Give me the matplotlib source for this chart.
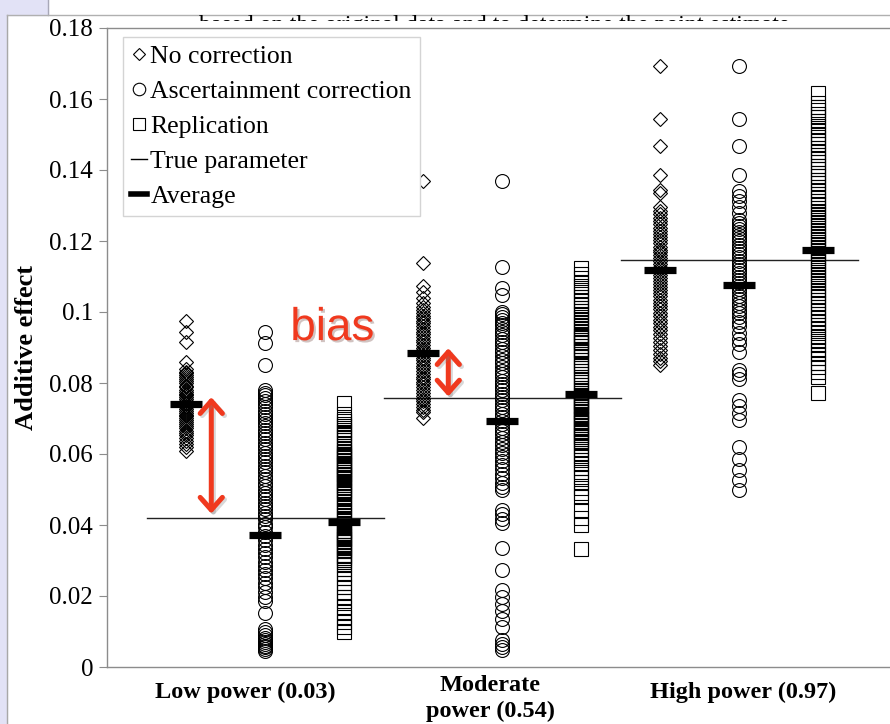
import matplotlib.pyplot as plt
import matplotlib.patheffects as pe
from matplotlib.lines import Line2D
from matplotlib.patches import Rectangle, FancyArrowPatch
from matplotlib.transforms import Bbox, TransformedBbox

# power scenarios
groups = ['Low power (0.03)', 'Moderate\npower (0.54)', 'High power (0.97)']
group_label_x = [1.75, 4.85, 8.05]
group_label_y = [-0.04, -0.049, -0.04]
true_param = [0.0420, 0.0757, 0.1146]

# estimates without correction
low_no_corr = [0.0975, 0.0945, 0.0915, 0.0858, 0.0840, 0.0832, 0.0828, 0.0822, 0.0816,
               0.0811, 0.0805, 0.0799, 0.0792, 0.0788, 0.0781, 0.0776, 0.0770, 0.0765,
               0.0760, 0.0754, 0.0749, 0.0745, 0.0741, 0.0736, 0.0731, 0.0727, 0.0722,
               0.0716, 0.0711, 0.0707, 0.0701, 0.0695, 0.0690, 0.0684, 0.0679, 0.0672,
               0.0666, 0.0660, 0.0653, 0.0646, 0.0638, 0.0628, 0.0620, 0.0608]
mod_no_corr = [0.1369, 0.1138, 0.1073, 0.1056, 0.1040, 0.1025, 0.1015, 0.1005, 0.0998,
               0.0990, 0.0982, 0.0975, 0.0968, 0.0960, 0.0952, 0.0945, 0.0938, 0.0930,
               0.0922, 0.0915, 0.0908, 0.0900, 0.0893, 0.0886, 0.0878, 0.0871, 0.0864,
               0.0856, 0.0848, 0.0841, 0.0833, 0.0826, 0.0818, 0.0811, 0.0803, 0.0796,
               0.0788, 0.0780, 0.0772, 0.0764, 0.0756, 0.0748, 0.0740, 0.0732, 0.0725,
               0.0718, 0.0701]
high_no_corr = [0.1693, 0.1544, 0.1468, 0.1386, 0.1344, 0.1335, 0.1296, 0.1285, 0.1275,
                0.1265, 0.1256, 0.1247, 0.1238, 0.1229, 0.1220, 0.1211, 0.1202, 0.1193,
                0.1184, 0.1176, 0.1168, 0.1160, 0.1152, 0.1144, 0.1136, 0.1128, 0.1120,
                0.1112, 0.1104, 0.1096, 0.1088, 0.1080, 0.1071, 0.1062, 0.1053, 0.1044,
                0.1035, 0.1026, 0.1017, 0.1008, 0.0998, 0.0988, 0.0978, 0.0968, 0.0958,
                0.0948, 0.0938, 0.0927, 0.0916, 0.0905, 0.0894, 0.0882, 0.0870, 0.0862,
                0.0852]

# estimates with ascertainment correction
low_asc = [0.0944, 0.0913, 0.0850, 0.0780, 0.0772, 0.0765, 0.0757, 0.0748, 0.0740,
           0.0731, 0.0722, 0.0712, 0.0703, 0.0695, 0.0686, 0.0678, 0.0668, 0.0660,
           0.0651, 0.0641, 0.0632, 0.0622, 0.0613, 0.0603, 0.0594, 0.0585, 0.0577,
           0.0566, 0.0557, 0.0548, 0.0538, 0.0529, 0.0519, 0.0510, 0.0500, 0.0491,
           0.0482, 0.0472, 0.0463, 0.0453, 0.0444, 0.0434, 0.0425, 0.0416, 0.0404,
           0.0393, 0.0381, 0.0370, 0.0357, 0.0345, 0.0333, 0.0320, 0.0309, 0.0297,
           0.0285, 0.0274, 0.0262, 0.0250, 0.0238, 0.0226, 0.0212, 0.0198, 0.0185,
           0.0152, 0.0108, 0.0098, 0.0090, 0.0083, 0.0077, 0.0071, 0.0066, 0.0060,
           0.0055, 0.0050, 0.0046]
mod_asc = [0.1369, 0.1127, 0.1068, 0.1048, 0.1000, 0.0993, 0.0985, 0.0978, 0.0970,
           0.0962, 0.0953, 0.0944, 0.0935, 0.0925, 0.0916, 0.0906, 0.0896, 0.0886,
           0.0876, 0.0866, 0.0855, 0.0845, 0.0835, 0.0826, 0.0816, 0.0806, 0.0797,
           0.0788, 0.0779, 0.0770, 0.0760, 0.0751, 0.0742, 0.0732, 0.0723, 0.0713,
           0.0704, 0.0694, 0.0684, 0.0674, 0.0664, 0.0655, 0.0645, 0.0635, 0.0625,
           0.0614, 0.0603, 0.0592, 0.0581, 0.0569, 0.0557, 0.0545, 0.0532, 0.0519,
           0.0507, 0.0499, 0.0442, 0.0430, 0.0418, 0.0406, 0.0335, 0.0273, 0.0217,
           0.0197, 0.0177, 0.0157, 0.0135, 0.0113, 0.0076, 0.0066, 0.0057, 0.0048]
high_asc = [0.1693, 0.1544, 0.1468, 0.1386, 0.1342, 0.1328, 0.1312, 0.1295, 0.1280,
            0.1258, 0.1250, 0.1241, 0.1233, 0.1224, 0.1216, 0.1208, 0.1199, 0.1190,
            0.1181, 0.1172, 0.1163, 0.1154, 0.1145, 0.1136, 0.1127, 0.1118, 0.1109,
            0.1100, 0.1091, 0.1082, 0.1073, 0.1064, 0.1055, 0.1046, 0.1036, 0.1026,
            0.1016, 0.1006, 0.0996, 0.0985, 0.0972, 0.0960, 0.0940, 0.0925, 0.0910,
            0.0888, 0.0838, 0.0826, 0.0812, 0.0752, 0.0735, 0.0715, 0.0697, 0.0620,
            0.0587, 0.0556, 0.0527, 0.0499]

# estimates from the replication sample
low_rep = [0.0745, 0.0713, 0.0700, 0.0693, 0.0684, 0.0678, 0.0669, 0.0661, 0.0655,
           0.0647, 0.0640, 0.0631, 0.0622, 0.0615, 0.0607, 0.0605, 0.0600, 0.0598,
           0.0594, 0.0588, 0.0581, 0.0575, 0.0572, 0.0568, 0.0562, 0.0559, 0.0556,
           0.0549, 0.0543, 0.0541, 0.0536, 0.0533, 0.0529, 0.0522, 0.0518, 0.0514,
           0.0507, 0.0500, 0.0496, 0.0493, 0.0486, 0.0479, 0.0472, 0.0465, 0.0457,
           0.0450, 0.0443, 0.0436, 0.0429, 0.0421, 0.0413, 0.0406, 0.0398, 0.0391,
           0.0384, 0.0382, 0.0377, 0.0373, 0.0369, 0.0364, 0.0361, 0.0355, 0.0352,
           0.0344, 0.0339, 0.0335, 0.0330, 0.0326, 0.0316, 0.0312, 0.0307, 0.0301,
           0.0296, 0.0286, 0.0275, 0.0262, 0.0250, 0.0238, 0.0226, 0.0212, 0.0198,
           0.0185, 0.0170, 0.0156, 0.0142, 0.0128, 0.0113, 0.0099]
mod_rep = [0.1124, 0.1108, 0.1095, 0.1083, 0.1072, 0.1062, 0.1052, 0.1042, 0.1030,
           0.1020, 0.1011, 0.1002, 0.0993, 0.0985, 0.0977, 0.0968, 0.0960, 0.0952,
           0.0944, 0.0936, 0.0931, 0.0928, 0.0920, 0.0916, 0.0912, 0.0904, 0.0897,
           0.0893, 0.0889, 0.0881, 0.0873, 0.0865, 0.0857, 0.0849, 0.0841, 0.0833,
           0.0825, 0.0818, 0.0810, 0.0802, 0.0795, 0.0787, 0.0780, 0.0772, 0.0765,
           0.0761, 0.0758, 0.0750, 0.0746, 0.0743, 0.0736, 0.0731, 0.0728, 0.0721,
           0.0717, 0.0714, 0.0706, 0.0702, 0.0698, 0.0690, 0.0686, 0.0682, 0.0674,
           0.0670, 0.0666, 0.0658, 0.0653, 0.0649, 0.0641, 0.0637, 0.0632, 0.0623,
           0.0614, 0.0604, 0.0594, 0.0584, 0.0573, 0.0561, 0.0548, 0.0534, 0.0520,
           0.0505, 0.0490, 0.0478, 0.0442, 0.0420, 0.0400, 0.0331]
high_rep = [0.1617, 0.1590, 0.1578, 0.1568, 0.1558, 0.1548, 0.1537, 0.1525, 0.1513,
            0.1502, 0.1492, 0.1482, 0.1472, 0.1462, 0.1452, 0.1442, 0.1432, 0.1422,
            0.1412, 0.1402, 0.1392, 0.1382, 0.1372, 0.1362, 0.1352, 0.1342, 0.1332,
            0.1322, 0.1313, 0.1303, 0.1294, 0.1285, 0.1276, 0.1267, 0.1258, 0.1250,
            0.1241, 0.1232, 0.1223, 0.1214, 0.1206, 0.1197, 0.1188, 0.1180, 0.1171,
            0.1162, 0.1153, 0.1144, 0.1135, 0.1126, 0.1117, 0.1108, 0.1099, 0.1090,
            0.1081, 0.1072, 0.1063, 0.1053, 0.1044, 0.1034, 0.1024, 0.1014, 0.1004,
            0.0994, 0.0984, 0.0973, 0.0962, 0.0951, 0.0940, 0.0929, 0.0918, 0.0906,
            0.0894, 0.0882, 0.0870, 0.0857, 0.0844, 0.0831, 0.0817, 0.0772]

# averages per method
avg_no_corr = [0.0741, 0.0884, 0.1118]
avg_asc = [0.0372, 0.0693, 0.1076]
avg_rep = [0.0408, 0.0769, 0.1175]

# bias arrows (x, lower end, upper end)
bias_x = [1.32, 4.32]
bias_lo = [0.0432, 0.0762]
bias_hi = [0.0760, 0.0898]

W, H = 890, 724
RED = '#f0391e'
SERIF = 'Liberation Serif'

fig = plt.figure(figsize=(W / 100, H / 100), dpi=100)
fig.patch.set_facecolor('white')

# slide background around the chart box
fig.add_artist(Rectangle((0, 0), 7 / W, 1, transform=fig.transFigure,
                         color='#e2e2f6', zorder=0))
fig.add_artist(Rectangle((0, 1 - 15 / H), 48 / W, 15 / H, transform=fig.transFigure,
                         color='#e2e2f6', zorder=0))
fig.add_artist(Line2D([48 / W, 48 / W], [1 - 15 / H, 1], transform=fig.transFigure,
                      color='#a8a8b8', lw=1))
fig.add_artist(Line2D([7 / W, 7 / W], [0, 1 - 15 / H], transform=fig.transFigure,
                      color='#a8a8a8', lw=1))
fig.add_artist(Line2D([7 / W, 1], [1 - 15 / H, 1 - 15 / H], transform=fig.transFigure,
                      color='#b0b0b0', lw=1))
slide_txt = fig.text(199 / W, 1 - 31 / H,
                     'based on the original data and to determine the point estimate',
                     fontsize=17.3, family=SERIF, va='baseline', color='black')
slide_txt.set_clip_box(TransformedBbox(Bbox([[0, 1 - 21 / H], [1, 1]]), fig.transFigure))

ax = fig.add_axes([107 / W, 57 / H, 790 / W, 639 / H])
ax.set_xlim(0, 10)
ax.set_ylim(0, 0.18)

series = [
    (low_no_corr, mod_no_corr, high_no_corr),
    (low_asc, mod_asc, high_asc),
    (low_rep, mod_rep, high_rep),
]
markers = ['D', 'o', 's']
sizes = [6.7, 10, 9.6]
averages = [avg_no_corr, avg_asc, avg_rep]

for si, (cols, mk, ms) in enumerate(zip(series, markers, sizes)):
    for gi, vals in enumerate(cols):
        x = 3 * gi + si + 1
        ax.plot([x] * len(vals), vals, ls='none', marker=mk, ms=ms,
                mfc='none', mec='black', mew=0.8, zorder=3)

for gi, tp in enumerate(true_param):
    ax.plot([3 * gi + 0.5, 3 * gi + 3.5], [tp, tp], color='#222222', lw=1, zorder=2)

for si, avg in enumerate(averages):
    for gi, v in enumerate(avg):
        ax.plot(3 * gi + si + 1, v, marker='_', ms=23, mew=5.2, color='black', zorder=5)

# bias annotation
shadow = [pe.SimpleLineShadow(offset=(1.5, -1.5), alpha=0.3, shadow_color='gray'), pe.Normal()]
for bx, lo, hi in zip(bias_x, bias_lo, bias_hi):
    arr = FancyArrowPatch((bx, lo), (bx, hi), arrowstyle='<->,head_length=9,head_width=8',
                          mutation_scale=1, lw=3.6, color=RED, shrinkA=0, shrinkB=0,
                          zorder=6)
    arr.set_path_effects(shadow)
    ax.add_patch(arr)
ax.text(2.32, 0.0921, 'bias', color=RED, fontsize=33, family='Liberation Sans',
        va='baseline', ha='left', zorder=6,
        path_effects=[pe.withSimplePatchShadow(offset=(1.5, -1.5), alpha=0.25)])

# axes styling
for side in ['left', 'bottom', 'top', 'right']:
    ax.spines[side].set_color('#8c8c8c')
    ax.spines[side].set_linewidth(1)
ax.set_xticks([])
yt = [0.02 * i for i in range(10)]
ax.set_yticks(yt)
ax.set_yticklabels([f'{v:g}' for v in [round(t, 2) for t in yt]])
ax.tick_params(axis='y', direction='out', length=6, width=0.8, color='#8c8c8c',
               labelsize=18, pad=4)
for lbl in ax.get_yticklabels():
    lbl.set_family(SERIF)
ax.set_ylabel('Additive effect', family=SERIF, fontsize=19, fontweight='bold', labelpad=8)

for gx, gy, name in zip(group_label_x, group_label_y, groups):
    ax.text(gx, gy, name, transform=ax.get_xaxis_transform(), ha='center',
            va='center', family=SERIF, fontsize=17.5, fontweight='bold',
            linespacing=1.3, clip_on=False)

handles = [
    Line2D([], [], ls='none', marker='D', ms=5.8, mfc='none', mec='black', mew=0.8),
    Line2D([], [], ls='none', marker='o', ms=9, mfc='none', mec='black', mew=0.8),
    Line2D([], [], ls='none', marker='s', ms=8.5, mfc='none', mec='black', mew=0.8),
    Line2D([], [], color='black', lw=1),
    Line2D([], [], color='black', lw=4),
]
labels = ['No correction', 'Ascertainment correction', 'Replication',
          'True parameter', 'Average']
leg = ax.legend(handles, labels, loc='upper left', bbox_to_anchor=(16 / 790, 1 - 9 / 639),
                borderaxespad=0, prop={'family': SERIF, 'size': 18.5}, fancybox=False,
                edgecolor='#d4d4d4', framealpha=1, handlelength=0.65, handletextpad=0.12,
                labelspacing=0.47, borderpad=0.3)
leg.get_frame().set_linewidth(1)

fig.savefig('out.png', dpi=100)
